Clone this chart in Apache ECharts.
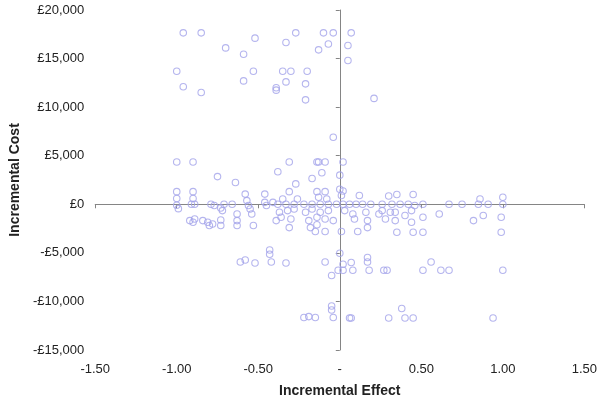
<!DOCTYPE html>
<html>
<head>
<meta charset="utf-8">
<script src="https://cdn.jsdelivr.net/npm/echarts@6/dist/echarts.min.js"></script>
<style>
    html, body { margin: 0; padding: 0; background: #fff; }
    #chart { width: 600px; height: 403px; }
</style>
</head>
<body>
<div id="chart"></div>
<script>
    // incremental effect / incremental cost pairs
    var effect = [
        -0.96, -0.85, -0.52, -0.27, -0.10, -0.04, 0.07,
        -0.70, -0.59, -0.33, -0.07, -0.13, 0.05, 0.05,
        -1.00, -0.53, -0.35, -0.30, -0.20,
        -0.96, -0.85, -0.59, -0.39, -0.39, -0.33, -0.21, -0.21,
        0.21, -0.04,
        0.02, 0.00, 0.00, 0.02,
        -1.00, -0.90, -0.31, -0.14, -0.13, -0.09,
        -0.38, -0.11, -0.75, -0.64, -0.27, -0.17,
        -1.00, -0.90, -0.31, -0.14, -0.09, -0.58, -0.46,
        -1.00, -1.00, -0.99, -0.90, -0.91, -0.89, -0.79, -0.77, -0.71, -0.73, -0.72, -0.66,
        -0.57, -0.56, -0.55, -0.54, -0.46, -0.45, -0.41,
        -0.92, -0.89, -0.90, -0.84, -0.81, -0.78, -0.80, -0.73, -0.73,
        -0.63, -0.63, -0.63, -0.53, -0.39,
        -0.38, -0.33, -0.28, -0.22, -0.17, -0.12, -0.07, -0.02, 0.02, 0.06, 0.10, 0.14, 0.19, 0.26,
        -0.26, -0.13, -0.08, 0.01, 0.12, -0.35,
        -0.37, -0.32, -0.28, -0.21, -0.17, -0.12, -0.07, 0.03, 0.08, 0.16, 0.26, 0.31,
        -0.36, -0.30, -0.19, -0.14, -0.09, -0.04, 0.09, 0.17, 0.28, 0.24,
        -0.31, -0.18, -0.14, -0.09, 0.01, 0.11, 0.17, -0.15,
        0.35, 0.45, 0.30,
        0.32, 0.37, 0.42, 0.46, 0.51, 0.67, 0.75, 0.85, 0.91, 1.00,
        0.86, 1.00,
        0.34, 0.40, 0.44, 0.34, 0.44, 0.51, 0.61, 0.35, 0.45, 0.51, 0.82, 0.88, 0.99, 0.99,
        -0.61, -0.58, -0.52, -0.43, -0.43, -0.42, -0.33, -0.09, -0.05,
        -0.22, -0.19, -0.15, -0.05, -0.05, -0.04,
        0.00, 0.02, 0.07, 0.17, 0.17, -0.01, 0.02, 0.08, 0.18, 0.27, 0.29, 0.51, 0.56, 0.62, 0.67, 1.00,
        0.06, 0.07, 0.30, 0.38, 0.40, 0.45, 0.94
    ];
    var cost = [
        17650, 17650, 17100, 17650, 17650, 17650, 17650,
        16100, 15450, 16650, 16500, 15900, 16350, 14800,
        13700, 13700, 13700, 13700, 13700,
        12100, 11500, 12700, 12000, 11750, 12600, 12400, 10750,
        10900, 6900,
        4350, 3000, 1550, 1370,
        4350, 4350, 4350, 4350, 4350, 4350,
        3350, 3250, 2850, 2250, 2100, 2650,
        1300, 1300, 1300, 1300, 1300, 1050, 1050,
        600, -100, -450, 600, 0, 0, 0, -130, 0, -380, -650, 0,
        380, -130, -480, -1000, 200, -130, 200,
        -1680, -1510, -1850, -1680, -1850, -2030, -2190, -1610, -2190,
        -1000, -1680, -2190, -2190, -1680,
        0, 0, 0, 0, 0, 0, 0, 0, 0, 0, 0, 0, 0, 0,
        550, 720, 550, 900, 900, 550,
        -820, -650, -480, -820, -480, -820, -650, -650, -1000, -820, -650, -820,
        -1340, -1510, -1680, -1340, -1510, -1680, -1510, -1680, -1510, -1000,
        -2400, -2400, -2100, -2800, -2800, -2800, -2400, -2800,
        1000, 1000, 850,
        0, 0, 0, -130, 0, 0, 0, 0, 0, 0,
        550, 720,
        -820, -1160, -650, -1680, -1850, -1340, -1000, -2880, -2880, -2880, -1680, -1160, -1340, -2880,
        -5940, -5730, -6040, -4700, -5140, -5940, -6040, -5940, -7330,
        -11660, -11560, -11660, -10470, -10880, -11660,
        -5040, -6170, -6000, -5480, -5940, -6790, -6790, -6790, -6790, -6790, -6790, -6790, -5940, -6790, -6790, -6790,
        -11700, -11700, -11700, -10730, -11700, -11700, -11700
    ];

    var xTicks = { min: -1.5, max: 1.5, step: 0.5 };
    var yTicks = { min: -15000, max: 20000, step: 5000 };

    function money(v) {
        var s = String(Math.abs(v)).replace(/\B(?=(\d{3})+(?!\d))/g, ',');
        return (v < 0 ? '-' : '') + '£' + s;
    }
    function effectLabel(v) {
        if (Math.abs(v) < 1e-9) return '-';
        return v.toFixed(2);
    }

    var points = [];
    for (var i = 0; i < effect.length; i++) {
        points.push([effect[i], cost[i]]);
    }

    var axisColor = '#858585';
    var labelStyle = { color: '#222', fontSize: 13, fontFamily: 'Liberation Sans, Arial, sans-serif' };
    var nameStyle = { color: '#222', fontSize: 14, fontWeight: 'bold', fontFamily: 'Liberation Sans, Arial, sans-serif' };

    var chart = echarts.init(document.getElementById('chart'));
    var option = {
        animation: false,
        grid: { left: 95, right: 15, top: 10, bottom: 52 },
        xAxis: [
            {
                type: 'value', position: 'bottom',
                min: xTicks.min, max: xTicks.max, interval: xTicks.step,
                axisLine: { show: false, onZero: false },
                axisTick: { show: false },
                splitLine: { show: false },
                axisLabel: Object.assign({ margin: 13, formatter: effectLabel }, labelStyle),
                name: 'Incremental Effect', nameLocation: 'middle', nameGap: 34,
                nameTextStyle: nameStyle
            },
            {
                type: 'value', position: 'top',
                min: xTicks.min, max: xTicks.max, interval: xTicks.step,
                axisLine: { show: true, onZero: true, onZeroAxisIndex: 1, lineStyle: { color: axisColor, width: 1 } },
                axisTick: { show: true, inside: true, length: 4, lineStyle: { color: axisColor } },
                splitLine: { show: false },
                axisLabel: { show: false }
            }
        ],
        yAxis: [
            {
                type: 'value', position: 'left',
                min: yTicks.min, max: yTicks.max, interval: yTicks.step,
                axisLine: { show: false, onZero: false },
                axisTick: { show: false },
                splitLine: { show: false },
                axisLabel: Object.assign({ margin: 11, formatter: money }, labelStyle),
                name: 'Incremental Cost', nameLocation: 'middle', nameGap: 67,
                nameTextStyle: nameStyle
            },
            {
                type: 'value', position: 'right',
                min: yTicks.min, max: yTicks.max, interval: yTicks.step,
                axisLine: { show: true, onZero: true, onZeroAxisIndex: 1, lineStyle: { color: axisColor, width: 1 } },
                axisTick: { show: true, inside: true, length: 4, lineStyle: { color: axisColor } },
                splitLine: { show: false },
                axisLabel: { show: false }
            }
        ],
        series: [
            {
                type: 'scatter',
                xAxisIndex: 0, yAxisIndex: 0,
                symbol: 'circle',
                symbolSize: 6.5,
                silent: true,
                itemStyle: { color: 'rgba(0,0,0,0)', borderColor: '#a2a2ea', borderWidth: 1.1 },
                data: points
            }
        ]
    };
    chart.setOption(option);
</script>
</body>
</html>
